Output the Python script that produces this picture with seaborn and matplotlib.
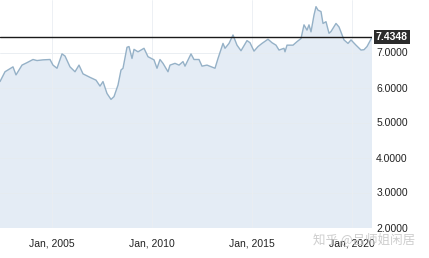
import matplotlib
matplotlib.use("Agg")
import matplotlib.pyplot as plt
import seaborn as sns
import pandas as pd

years = [2002.40, 2002.65, 2003.05, 2003.20, 2003.50, 2003.75, 2004.05, 2004.25, 2004.55, 2004.90,
         2005.05, 2005.25, 2005.50, 2005.65, 2005.90, 2006.15, 2006.35, 2006.55, 2006.90, 2007.20,
         2007.40, 2007.55, 2007.75, 2007.95, 2008.10, 2008.30, 2008.45, 2008.55, 2008.75, 2008.85,
         2009.00, 2009.10, 2009.30, 2009.60, 2009.80, 2010.10, 2010.25, 2010.40, 2010.55, 2010.80,
         2010.90, 2011.15, 2011.35, 2011.55, 2011.65, 2011.95, 2012.10, 2012.35, 2012.50, 2012.75,
         2013.15, 2013.30, 2013.55, 2013.65, 2013.85, 2014.05, 2014.25, 2014.45, 2014.75, 2014.90,
         2015.10, 2015.30, 2015.50, 2015.80, 2016.00, 2016.20, 2016.35, 2016.60, 2016.65, 2016.75,
         2017.05, 2017.25, 2017.45, 2017.60, 2017.75, 2017.85, 2017.95, 2018.10, 2018.20, 2018.30,
         2018.45, 2018.55, 2018.70, 2018.85, 2018.95, 2019.20, 2019.35, 2019.60, 2019.80, 2019.95,
         2020.20, 2020.45, 2020.60, 2020.75, 2021.00]
rates = [6.17, 6.45, 6.59, 6.36, 6.64, 6.71, 6.80, 6.77, 6.79, 6.80,
         6.64, 6.55, 6.96, 6.90, 6.59, 6.45, 6.64, 6.39, 6.29, 6.21,
         6.04, 6.17, 5.83, 5.66, 5.74, 6.07, 6.50, 6.55, 7.15, 7.17,
         6.83, 7.09, 7.02, 7.12, 6.88, 6.79, 6.55, 6.80, 6.69, 6.45,
         6.64, 6.69, 6.64, 6.74, 6.61, 6.96, 6.80, 6.80, 6.61, 6.64,
         6.55, 6.83, 7.26, 7.12, 7.26, 7.50, 7.21, 7.05, 7.34, 7.28,
         7.04, 7.17, 7.26, 7.38, 7.28, 7.21, 7.07, 7.12, 7.02, 7.21,
         7.21, 7.31, 7.40, 7.79, 7.64, 7.79, 7.59, 8.07, 8.31, 8.21,
         8.17, 7.83, 7.88, 7.55, 7.60, 7.83, 7.73, 7.36, 7.26, 7.36,
         7.21, 7.07, 7.08, 7.17, 7.4348]
last_value = 7.4348
y_ticks = [2.0, 3.0, 4.0, 5.0, 6.0, 7.0]
x_ticks = [2005, 2010, 2015, 2020]
x_labels = ["Jan, 2005", "Jan, 2010", "Jan, 2015", "Jan, 2020"]
watermark = "知乎 @吕师姐闲居"

df = pd.DataFrame({"year": years, "rate": rates})

sns.set_theme(style="white")
plt.rcParams["font.family"] = ["Liberation Sans", "Noto Sans CJK SC", "DejaVu Sans"]

fig = plt.figure(figsize=(4.29, 2.58), dpi=100)
ax = fig.add_axes([0.0, 1 - 227.5 / 258, 372 / 429, 227.5 / 258])
ax.set_facecolor("white")

ax.fill_between(df["year"], df["rate"], 0, color="#e4ecf5", lw=0, zorder=1)
sns.lineplot(data=df, x="year", y="rate", ax=ax, color="#95b1c7", lw=1.0, zorder=3)

ax.set_xlim(2002.4, 2021.0)
ax.set_ylim(2.0, 8.5)

for yv in y_ticks:
    ax.axhline(yv, color="#e6ebf0", lw=0.6, zorder=2)
for xv in x_ticks:
    ax.axvline(xv, color="#eaeef2", lw=0.6, zorder=2)

ax.axhline(last_value, color="#1a1a1a", lw=1.0, zorder=4)

for s in ax.spines.values():
    s.set_visible(False)

ax.yaxis.tick_right()
ax.set_yticks(y_ticks)
ax.set_yticklabels([f"{v:.4f}" for v in y_ticks], fontsize=7.5, color="#222222")
ax.tick_params(axis="y", length=0, pad=3)
ax.set_xticks(x_ticks)
ax.set_xticklabels(x_labels, fontsize=7.5, color="#222222")
ax.tick_params(axis="x", length=0, pad=8)
ax.set_xlabel("")
ax.set_ylabel("")

ax.text(1.0 + 4 / 372, last_value, f"{last_value:.4f}", transform=ax.get_yaxis_transform(),
        ha="left", va="center", fontsize=7.5, color="white", fontweight="bold",
        bbox=dict(boxstyle="square,pad=0.2", fc="#2b2b2b", ec="none"), zorder=6, clip_on=False)

fig.text(364 / 429, 1 - 240 / 258, watermark, ha="center", va="center", fontsize=9,
         color="#c8c8c8", alpha=0.9, family=["Noto Sans CJK SC", "DejaVu Sans"])

fig.savefig("out.png", dpi=100)
